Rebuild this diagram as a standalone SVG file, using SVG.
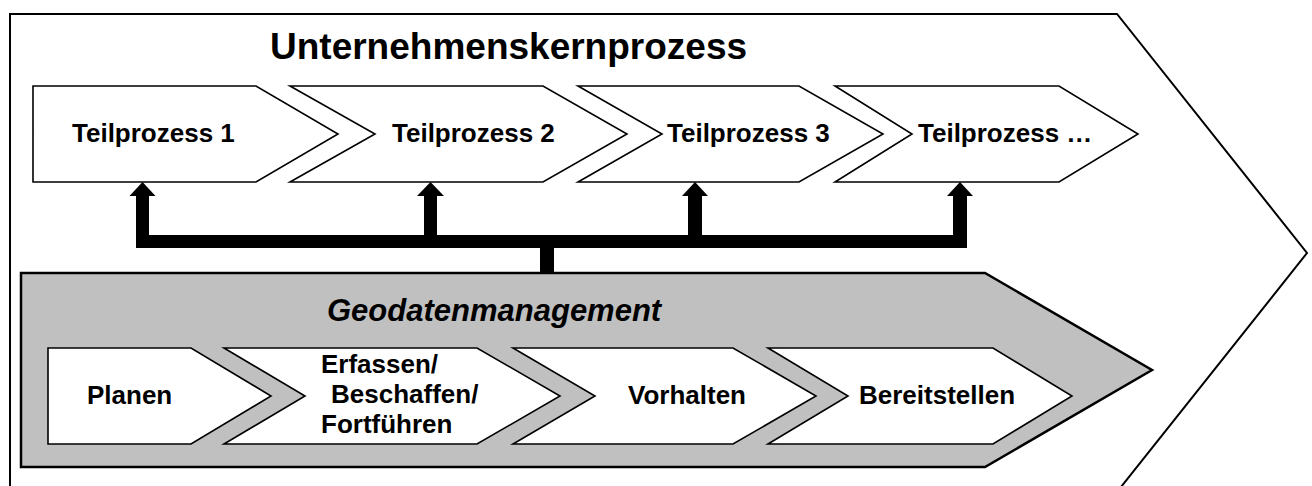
<svg xmlns="http://www.w3.org/2000/svg" width="1312" height="486" viewBox="0 0 1312 486">
<style>
.chev{fill:#fff;stroke:#000;stroke-width:1.6;stroke-linejoin:miter}
.lbl{font-family:"Liberation Sans",Arial,sans-serif;font-weight:bold;font-size:26px;fill:#000}
.title{font-family:"Liberation Sans",Arial,sans-serif;font-weight:bold;font-size:37px;fill:#000}
.sub{font-family:"Liberation Sans",Arial,sans-serif;font-weight:bold;font-style:italic;font-size:31px;fill:#000}
</style>
<rect width="1312" height="486" fill="#fff"/>
<g id="kernprozess">
<polygon points="10,14 1117,14 1307,253 1117,492 10,492" fill="#fff" stroke="#000" stroke-width="2"/>
<text class="title" x="270" y="58.5">Unternehmenskernprozess</text>
</g>
<g id="teilprozess1">
<polygon class="chev" points="33,86 256,86 338,134 256,182 33,182"/>
<text class="lbl" x="72" y="141.5">Teilprozess 1</text>
</g>
<g id="teilprozess2">
<polygon class="chev" points="290,86 543,86 627,134 543,182 290,182 375,134"/>
<text class="lbl" x="392" y="141.5">Teilprozess 2</text>
</g>
<g id="teilprozess3">
<polygon class="chev" points="578,86 799,86 883,134 799,182 578,182 662,134"/>
<text class="lbl" x="667" y="141.5">Teilprozess 3</text>
</g>
<g id="teilprozess4">
<polygon class="chev" points="835,86 1059,86 1138,134 1059,182 835,182 912,134"/>
<text class="lbl" x="918" y="141.5">Teilprozess …</text>
</g>
<g id="connectors" fill="#000">
<rect x="136" y="235" width="831" height="13"/>
<rect x="540" y="247" width="14" height="27"/>
<rect x="136" y="195" width="13" height="41"/>
<polygon points="129.5,196 142.5,182 155.5,196"/>
<rect x="424" y="195" width="13" height="41"/>
<polygon points="417,196 430.5,182 444,196"/>
<rect x="688" y="195" width="14" height="41"/>
<polygon points="682,196 695,182 708,196"/>
<rect x="953" y="195" width="14" height="41"/>
<polygon points="947,196 960,182 973,196"/>
</g>
<g id="geodatenmanagement">
<polygon points="21,273 985,273 1152,370 985,467 21,467" fill="#c0c0c0" stroke="#000" stroke-width="2.5"/>
<text class="sub" x="327" y="321">Geodatenmanagement</text>
</g>
<g id="planen">
<polygon class="chev" points="48,348 191,348 271,396 191,444 48,444"/>
<text class="lbl" x="87" y="404">Planen</text>
</g>
<g id="erfassen">
<polygon class="chev" points="224,348 477,348 560,396 477,444 224,444 305,396"/>
<text class="lbl" x="321" y="373">Erfassen/</text>
<text class="lbl" x="331" y="403">Beschaffen/</text>
<text class="lbl" x="321" y="433">Fortführen</text>
</g>
<g id="vorhalten">
<polygon class="chev" points="513,348 733,348 816,396 733,444 513,444 595,396"/>
<text class="lbl" x="628" y="404">Vorhalten</text>
</g>
<g id="bereitstellen">
<polygon class="chev" points="768,348 993,348 1072,396 993,444 768,444 848,396"/>
<text class="lbl" x="859" y="404">Bereitstellen</text>
</g>
</svg>
